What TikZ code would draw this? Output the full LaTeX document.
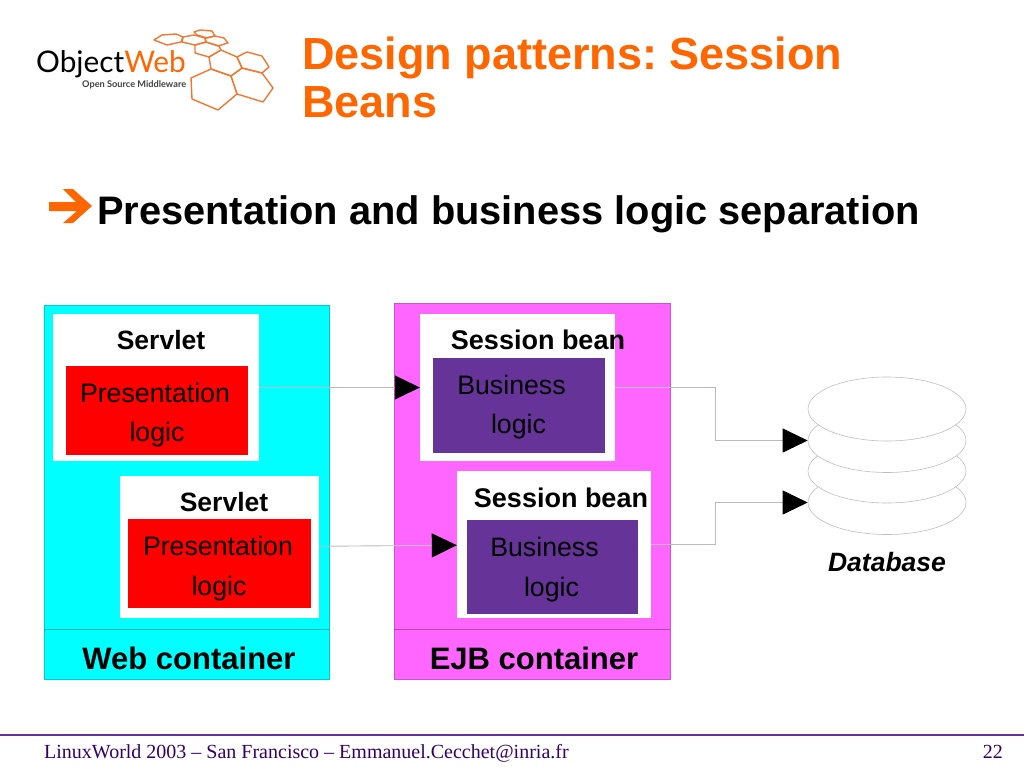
\documentclass[tikz,border=0pt]{standalone}
\usepackage{fontspec}
\setmainfont{Liberation Sans}
\newfontfamily\footfont{Liberation Serif}
\newfontfamily\logofont{Lato}
\usetikzlibrary{arrows.meta,shapes.geometric}
\definecolor{titleorange}{RGB}{255,102,0}
\definecolor{webcyan}{RGB}{0,255,255}
\definecolor{ejbpink}{RGB}{255,102,255}
\definecolor{beanpurple}{RGB}{102,51,153}
\definecolor{footline}{RGB}{102,51,153}
\definecolor{foottext}{RGB}{51,0,102}
\definecolor{hexorange}{RGB}{240,120,50}
\definecolor{linkgrey}{RGB}{190,185,190}
\tikzset{
  container/.style={rectangle,draw=#1!80!black,line width=0.4pt,fill=#1,inner sep=0pt},
  whitebox/.style={rectangle,fill=white,inner sep=0pt},
  logicbox/.style={rectangle,fill=#1,inner sep=0pt},
  boxlabel/.style={inner sep=0pt,font=\fontsize{26.5}{26.5}\selectfont\bfseries},
  beanlabel/.style={inner sep=0pt,font=\fontsize{27}{27}\selectfont\bfseries},
  logiclabel/.style={inner sep=0pt,font=\fontsize{26.7}{26.7}\selectfont},
  conlabel/.style={inner sep=0pt,font=\fontsize{31}{31}\selectfont\bfseries},
  titlelabel/.style={anchor=base west,inner sep=0pt,text=titleorange,font=\fontsize{45}{45}\selectfont\bfseries\frenchspacing},
  footlabel/.style={inner sep=0pt,font=\footfont\fontsize{20}{20}\selectfont,text=foottext},
  disk/.style={ellipse,draw=black!25,line width=0.6pt,fill=white,inner sep=0pt,minimum width=158pt,minimum height=64pt},
  link/.style={draw=linkgrey,line width=0.9pt},
  tipped/.style={-{Triangle[length=25pt,width=24pt,fill=black,color=black]}},
  hexline/.style={draw=hexorange,line width=1.4pt,line join=round},
}
\begin{document}
\begin{tikzpicture}[x=1pt, y=-1pt]
  \useasboundingbox (0,0) rectangle (1024,768);

  %% logo
  \node[anchor=base west,inner sep=0pt,font=\logofont\fontsize{29.8}{29.8}\selectfont] (logoname) at (36,72) {Object\textcolor{titleorange}{Web}};
  \node[anchor=west,inner sep=0pt,font=\logofont\bfseries\fontsize{9.2}{9.2}\selectfont,text=black!75] (logosub) at (82,85) {Open Source Middleware};
  \draw[hexline] (154,40) -- (162,35) -- (176,34) -- (183,37) -- (181,42) -- (167,45) -- cycle;
  \draw[hexline] (194,32) -- (200,30) -- (212,31) -- (215,36) -- (207,38) -- (197,35) -- cycle;
  \draw[hexline] (183,37) -- (194,35) -- (205,38) -- (206,42) -- (195,45) -- (182,42) -- cycle;
  \draw[hexline] (205,38) -- (215,36) -- (224,38) -- (228,43) -- (218,46) -- (206,42) -- cycle;
  \draw[hexline] (195,45) -- (206,42) -- (219,46) -- (221,50) -- (209,57) -- (195,53) -- cycle;
  \draw[hexline] (209,57) -- (221,50) -- (237,57) -- (242,68) -- (231,76) -- (211,69) -- cycle;
  \draw[hexline] (237,57) -- (247,52) -- (262,56) -- (269,67) -- (262,73) -- (242,68) -- cycle;
  \draw[hexline] (211,69) -- (231,76) -- (237,94) -- (218,110) -- (192,99) -- (191,78) -- cycle;
  \draw[hexline] (231,76) -- (242,68) -- (262,73) -- (273,88) -- (263,102) -- (237,94) -- cycle;

  %% title
  \node[titlelabel] (titleone) at (302,69) {Design patterns: Session};
  \node[titlelabel] (titletwo) at (302,117) {Beans};

  %% bullet
  \fill[titleorange] (49,202) -- (76,202) -- (63,189) -- (73,189) -- (92,206) -- (73,223) -- (63,223) -- (77,211) -- (49,211) -- cycle;
  \node[anchor=base west,inner sep=0pt,font=\fontsize{39.8}{39.8}\selectfont\bfseries] (headline) at (97,224) {Presentation and business logic separation};

  %% containers
  \node[container=webcyan,minimum width=285pt,minimum height=374pt] (webbox) at (186.5,492) {};
  \node[container=ejbpink,minimum width=276pt,minimum height=376pt] (ejbbox) at (532,491) {};
  \draw[draw=webcyan!70!black,line width=0.4pt] (webbox.west |- 0,629) -- (webbox.east |- 0,629);
  \draw[draw=ejbpink!70!black,line width=0.4pt] (ejbbox.west |- 0,629) -- (ejbbox.east |- 0,629);
  \node[conlabel] (weblabel) at (189,658) {Web container};
  \node[conlabel] (ejblabel) at (534,658) {EJB container};

  %% servlets
  \node[whitebox,minimum width=206pt,minimum height=147pt] (servletone) at (156,387.5) {};
  \node[logicbox=red,minimum width=182pt,minimum height=89pt] (presone) at (157,410) {};
  \node[boxlabel] (servletonelabel) at (161,340) {Servlet};
  \node[logiclabel] (presonetop) at (155,393) {Presentation};
  \node[logiclabel] (presonelow) at (157,435) {logic};

  \node[whitebox,minimum width=199pt,minimum height=142pt] (servlettwo) at (219.5,547) {};
  \node[logicbox=red,minimum width=183pt,minimum height=89pt] (prestwo) at (219.5,563.5) {};
  \node[boxlabel] (servlettwolabel) at (224,502) {Servlet};
  \node[logiclabel] (prestwotop) at (218,546) {Presentation};
  \node[logiclabel] (prestwolow) at (219,589) {logic};

  %% beans
  \node[whitebox,minimum width=195pt,minimum height=147pt] (beanone) at (517.5,387.5) {};
  \node[logicbox=beanpurple,minimum width=172pt,minimum height=95pt] (busone) at (519,405.5) {};
  \node[beanlabel] (beanonelabel) at (538,340) {Session bean};
  \node[logiclabel] (busonetop) at (511.5,385) {Business};
  \node[logiclabel] (busonelow) at (518.5,427) {logic};

  \node[whitebox,minimum width=194pt,minimum height=147pt] (beantwo) at (554,544.5) {};
  \node[logicbox=beanpurple,minimum width=171pt,minimum height=94pt] (bustwo) at (552,567) {};
  \node[beanlabel] (beantwolabel) at (561,498) {Session bean};
  \node[logiclabel] (bustwotop) at (544.5,547) {Business};
  \node[logiclabel] (bustwolow) at (551.5,590) {logic};

  %% database
  \node[disk] (diskfour) at (887,502.5) {};
  \node[disk] (diskthree) at (887,471) {};
  \node[disk] (disktwo) at (887,440.5) {};
  \node[disk] (diskone) at (887,409) {};
  \node[inner sep=0pt,font=\fontsize{26.5}{26.5}\selectfont\bfseries\itshape] (dblabel) at (887,562) {Database};

  %% connectors
  \coordinate (bendone) at (715,440.5);
  \coordinate (bendtwo) at (715,502.5);
  \draw[link,tipped] (servletone) -- (beanone);
  \draw[link,tipped] (servlettwo) -- (beantwo);
  \draw[link,tipped] (beanone.east) -| (bendone) -- (disktwo.west);
  \draw[link,tipped] (beantwo.east) -| (bendtwo) -- (diskfour.west);

  %% footer
  \coordinate (footleft) at (0,735);
  \coordinate (footright) at (1024,735);
  \draw[draw=footline,line width=1.3pt] (footleft) -- (footright);
  \node[anchor=base west,footlabel] (footer) at (44,758) {LinuxWorld 2003 – San Francisco – Emmanuel.Cecchet@inria.fr};
  \node[anchor=base east,footlabel] (pagenum) at (1003,758) {22};
\end{tikzpicture}
\end{document}
